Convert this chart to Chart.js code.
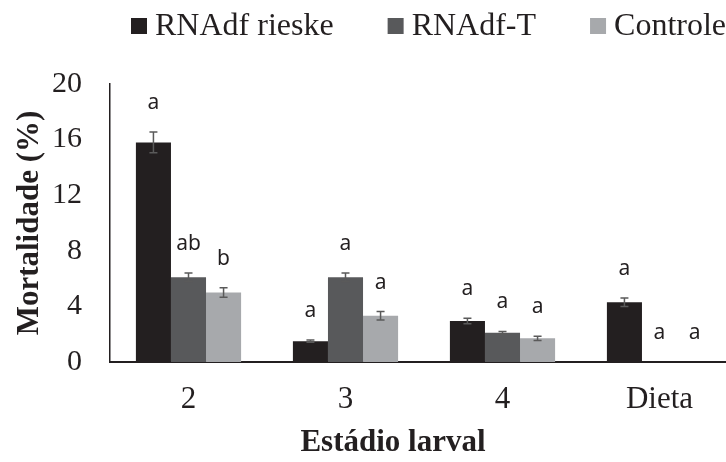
<!DOCTYPE html>
<html>
<head>
<meta charset="utf-8">
<script src="https://cdn.jsdelivr.net/npm/chart.js@4/dist/chart.umd.min.js"></script>
<style>
  html, body { margin: 0; padding: 0; background: #ffffff; overflow: hidden; }
  #wrap { width: 726px; height: 462px; overflow: hidden; }
</style>
</head>
<body>
<div id="wrap"><canvas id="chartMortalidade" width="745" height="462"></canvas></div>
<script>
var categories = ["2", "3", "4", "Dieta"];
var seriesNames = ["RNAdf rieske", "RNAdf-T", "Controle"];

var rieske = [15.8, 1.5, 2.95, 4.3];
var rnadfT = [6.1, 6.1, 2.1, 0];
var controle = [5.0, 3.33, 1.7, 0];

var errRieske = [0.75, 0.08, 0.2, 0.3];
var errT = [0.3, 0.3, 0.1, 0];
var errControle = [0.35, 0.3, 0.15, 0];

var letrasRieske = ["a", "a", "a", "a"];
var letrasT = ["ab", "a", "a", "a"];
var letrasControle = ["b", "a", "a", "a"];

var yTicks = [0, 4, 8, 12, 16, 20];

var colors = ["#231f20", "#58595b", "#a7a9ac"];
var serif = "'Liberation Serif', 'Times New Roman', serif";
var xTitle = "Estádio larval";

// error bars + letters above each bar
const errorBarsPlugin = {
  id: "errorBars",
  afterDatasetsDraw(chart) {
    const ctx = chart.ctx;
    const y = chart.scales.y;
    chart.data.datasets.forEach(function (ds, i) {
      const meta = chart.getDatasetMeta(i);
      meta.data.forEach(function (bar, j) {
        const v = ds.data[j];
        const e = ds.errors[j];
        const top = y.getPixelForValue(v + e);
        if (e > 0) {
          const bottom = y.getPixelForValue(v - e);
          ctx.save();
          ctx.strokeStyle = "#5a5a5a";
          ctx.lineWidth = 1.5;
          ctx.beginPath();
          ctx.moveTo(bar.x, top);
          ctx.lineTo(bar.x, bottom);
          ctx.moveTo(bar.x - 4, top);
          ctx.lineTo(bar.x + 4, top);
          ctx.moveTo(bar.x - 4, bottom);
          ctx.lineTo(bar.x + 4, bottom);
          ctx.stroke();
          ctx.restore();
        }
        ctx.save();
        ctx.fillStyle = "#231f20";
        ctx.font = "21px 'Noto Sans', 'Open Sans', sans-serif";
        ctx.textAlign = "center";
        ctx.textBaseline = "middle";
        ctx.fillText(ds.letters[j], bar.x, top - 29);
        ctx.restore();
      });
    });
  },
};

// legend at top (boxes close to text) and the x axis title, placed as in the original
const textsPlugin = {
  id: "texts",
  afterDraw(chart) {
    const ctx = chart.ctx;
    ctx.save();
    ctx.font = "32px " + serif;
    ctx.textBaseline = "middle";
    let x = 131;
    const yMid = 26;
    chart.data.datasets.forEach(function (ds) {
      ctx.fillStyle = ds.backgroundColor;
      ctx.fillRect(x, yMid - 8, 16, 16);
      ctx.fillStyle = "#231f20";
      ctx.fillText(ds.label, x + 24, yMid + 1);
      x += 24 + ctx.measureText(ds.label).width + 54;
    });

    ctx.font = "bold 31px " + serif;
    ctx.textAlign = "center";
    ctx.fillText(xTitle, 393, 443);
    ctx.restore();
  },
};

function makeDataset(k, data, errors, letters) {
  return {
    label: seriesNames[k],
    data: data,
    errors: errors,
    letters: letters,
    backgroundColor: colors[k],
    borderWidth: 0,
    barPercentage: 1.0,
    categoryPercentage: 0.67,
  };
}

var ctx = document.getElementById("chartMortalidade");
var chartMortalidade = new Chart(ctx, {
  type: "bar",
  data: {
    labels: categories,
    datasets: [
      makeDataset(0, rieske, errRieske, letrasRieske),
      makeDataset(1, rnadfT, errT, letrasT),
      makeDataset(2, controle, errControle, letrasControle),
    ],
  },
  plugins: [errorBarsPlugin, textsPlugin],
  options: {
    responsive: false,
    animation: false,
    devicePixelRatio: 1,
    layout: {
      padding: { top: 84, left: 8, right: 7, bottom: 2 },
    },
    plugins: {
      legend: { display: false },
      tooltip: { enabled: false },
      title: { display: false },
    },
    scales: {
      x: {
        afterFit: function (scale) {
          scale.height = 98;
        },
        grid: { display: false, drawTicks: false },
        border: { display: true, color: "#231f20", width: 2 },
        ticks: {
          color: "#231f20",
          padding: 19,
          font: { family: serif, size: 31 },
        },
        title: { display: false },
      },
      y: {
        min: 0,
        max: 20,
        afterBuildTicks: function (axis) {
          axis.ticks = yTicks.map(function (v) {
            return { value: v };
          });
        },
        afterFit: function (scale) {
          scale.width = 102;
        },
        grid: { display: false, drawTicks: false },
        border: { display: true, color: "#231f20", width: 1.5 },
        ticks: {
          color: "#231f20",
          padding: 28,
          font: { family: serif, size: 30 },
        },
        title: {
          display: true,
          text: "Mortalidade (%)",
          color: "#231f20",
          padding: { top: 3, bottom: 3 },
          font: { family: serif, size: 31, weight: "bold" },
        },
      },
    },
  },
});
</script>
</body>
</html>
